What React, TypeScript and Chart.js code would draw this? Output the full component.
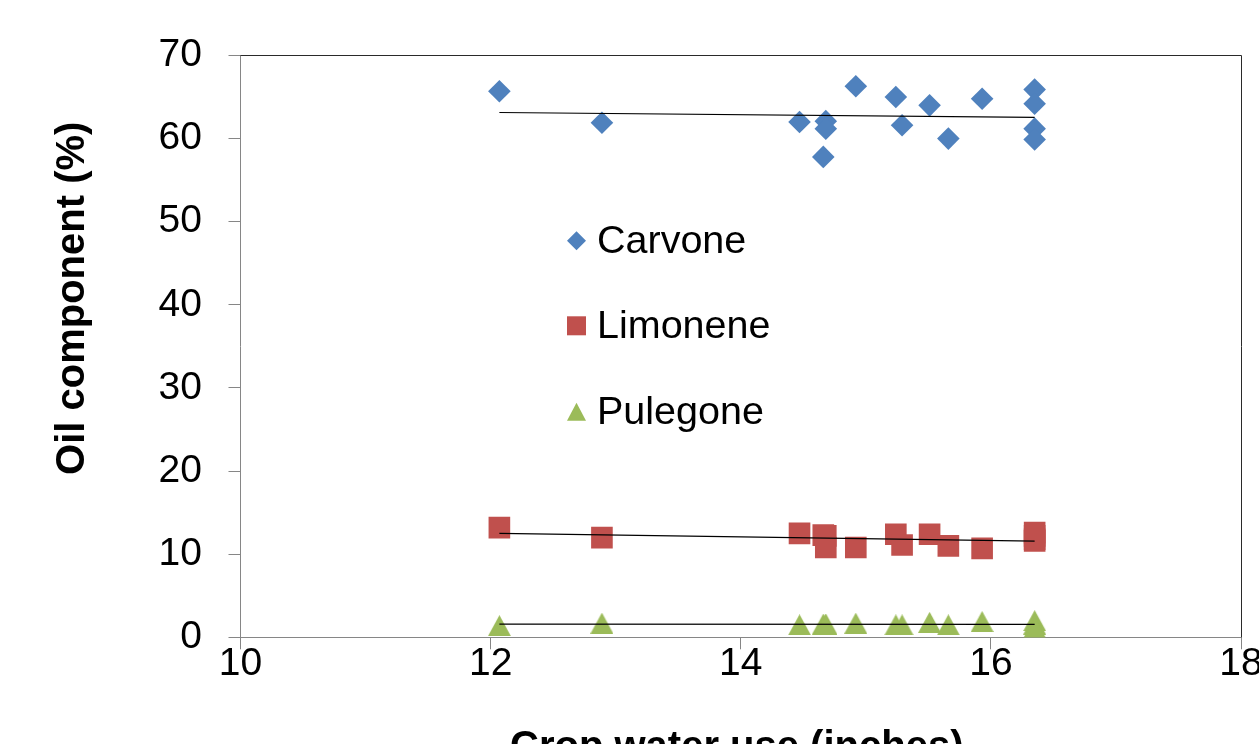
import React, { useEffect, useRef } from "react";
import { Chart, registerables } from "chart.js";

Chart.register(...registerables);

// ---- data ----
const waterUse = [12.07, 12.89, 14.47, 14.66, 14.68, 14.68, 14.92, 15.24, 15.29, 15.51, 15.66, 15.93, 16.35, 16.35, 16.35, 16.35];
const carvone = [65.7, 61.9, 62.0, 57.8, 62.1, 61.2, 66.3, 65.0, 61.6, 64.0, 60.0, 64.8, 65.9, 64.2, 61.2, 59.9];
const limonene = [13.2, 12.0, 12.5, 12.3, 12.2, 10.8, 10.8, 12.4, 11.1, 12.4, 11.0, 10.7, 12.6, 12.2, 11.8, 11.6];
const pulegone = [1.4, 1.7, 1.5, 1.6, 1.6, 1.5, 1.7, 1.5, 1.5, 1.8, 1.5, 1.9, 2.0, 1.6, 1.1, 1.0];

const seriesNames = ["Carvone", "Limonene", "Pulegone"];
const seriesColors = ["#4F81BD", "#C0504D", "#9BBB59"];
const xAxisTitle = "Crop water use (inches)";
const yAxisTitle = "Oil component (%)";
const xMin = 10, xMax = 18, xStep = 2;
const yMin = 0, yMax = 70, yStep = 10;

const FONT = "'Liberation Sans', Arial, Helvetica, sans-serif";
const CANVAS_W = 1300;
const CANVAS_H = 770;

function toPoints(ys: number[]) {
  return waterUse.map((x, i) => ({ x, y: ys[i] }));
}

function trend(ys: number[]) {
  const n = waterUse.length;
  const mx = waterUse.reduce((a, b) => a + b, 0) / n;
  const my = ys.reduce((a, b) => a + b, 0) / n;
  let sxy = 0, sxx = 0;
  for (let i = 0; i < n; i++) {
    sxy += (waterUse[i] - mx) * (ys[i] - my);
    sxx += (waterUse[i] - mx) ** 2;
  }
  const m = sxy / sxx;
  const b = my - m * mx;
  const x0 = Math.min(...waterUse);
  const x1 = Math.max(...waterUse);
  return [{ x: x0, y: b + m * x0 }, { x: x1, y: b + m * x1 }];
}

function triangleImage(w: number, h: number, color: string) {
  const c = document.createElement("canvas");
  c.width = w;
  c.height = h;
  const g = c.getContext("2d")!;
  g.fillStyle = color;
  g.beginPath();
  g.moveTo(w / 2, 0);
  g.lineTo(w, h);
  g.lineTo(0, h);
  g.closePath();
  g.fill();
  return c;
}

const decorPlugin = {
  id: "decor",
  afterDraw(chart: any) {
    const { ctx, chartArea: a } = chart;
    ctx.save();
    // top & right plot border
    ctx.strokeStyle = "#2a2a2a";
    ctx.lineWidth = 1;
    const t = Math.floor(a.top) + 0.5;
    const r = Math.floor(a.right) + 0.5;
    ctx.beginPath();
    ctx.moveTo(a.left, t);
    ctx.lineTo(r, t);
    ctx.lineTo(r, a.bottom);
    ctx.stroke();

    // legend inside plot
    const rows = [185.3, 270.3, 356.3];
    const mx = a.left + 336;
    ctx.font = `39.5px ${FONT}`;
    ctx.fillStyle = "#000";
    ctx.textAlign = "left";
    ctx.textBaseline = "middle";
    seriesNames.forEach((name, i) => {
      const my = a.top + rows[i];
      ctx.fillStyle = seriesColors[i];
      ctx.beginPath();
      if (i === 0) {
        const h = 9.5;
        ctx.moveTo(mx, my - h);
        ctx.lineTo(mx + h, my);
        ctx.lineTo(mx, my + h);
        ctx.lineTo(mx - h, my);
      } else if (i === 1) {
        ctx.rect(mx - 9.5, my - 9.5, 19, 19);
      } else {
        ctx.moveTo(mx, my - 9);
        ctx.lineTo(mx + 9.5, my + 9);
        ctx.lineTo(mx - 9.5, my + 9);
      }
      ctx.closePath();
      ctx.fill();
      ctx.fillStyle = "#000";
      ctx.fillText(name, a.left + 356.5, my + 1);
    });

    // axis titles
    ctx.font = `bold 40px ${FONT}`;
    ctx.textAlign = "center";
    ctx.textBaseline = "alphabetic";
    ctx.fillText(xAxisTitle, (a.left + a.right) / 2 - 4, a.bottom + 121.5);

    ctx.translate(a.left - 156.5, a.top + 242.8);
    ctx.rotate(-Math.PI / 2);
    ctx.fillText(yAxisTitle, 0, 0);
    ctx.restore();
  },
};

export default function App() {
  const ref = useRef<HTMLCanvasElement | null>(null);

  useEffect(() => {
    if (!ref.current) return;
    const tri = triangleImage(23, 21, seriesColors[2]);
    const axisGray = "#868686";
    const chart = new Chart(ref.current, {
      type: "scatter",
      data: {
        datasets: [
          {
            label: seriesNames[0],
            data: toPoints(carvone),
            backgroundColor: seriesColors[0],
            borderColor: seriesColors[0],
            borderWidth: 0,
            pointStyle: "rectRot",
            pointRadius: 11.3,
            order: 2,
          },
          {
            label: seriesNames[1],
            data: toPoints(limonene),
            backgroundColor: seriesColors[1],
            borderColor: seriesColors[1],
            borderWidth: 0,
            pointStyle: "rect",
            pointRadius: 15.3,
            order: 2,
          },
          {
            label: seriesNames[2],
            data: toPoints(pulegone),
            backgroundColor: seriesColors[2],
            borderColor: seriesColors[2],
            borderWidth: 0,
            pointStyle: tri as any,
            pointRadius: 11,
            order: 2,
          },
          ...[carvone, limonene, pulegone].map((ys, i) => ({
            label: seriesNames[i] + " trend",
            data: trend(ys),
            showLine: true,
            borderColor: "#000000",
            borderWidth: 1.2,
            pointRadius: 0,
            fill: false,
            order: 1,
          })),
        ],
      },
      options: {
        animation: false,
        responsive: false,
        devicePixelRatio: 1,
        layout: { padding: { top: 55.5, right: CANVAS_W - 1241, bottom: 0, left: 0 } },
        plugins: {
          legend: { display: false },
          tooltip: { enabled: false },
          title: { display: false },
        },
        scales: {
          x: {
            type: "linear",
            min: xMin,
            max: xMax,
            ticks: {
              stepSize: xStep,
              color: "#000",
              font: { family: FONT, size: 39 },
              padding: -8,
              maxRotation: 0,
            },
            grid: { drawOnChartArea: false, drawTicks: true, tickLength: 12, color: axisGray },
            border: { color: axisGray, width: 1 },
            afterFit: (s: any) => {
              s.height = CANVAS_H - 637.3;
            },
          },
          y: {
            type: "linear",
            min: yMin,
            max: yMax,
            ticks: {
              stepSize: yStep,
              color: "#000",
              font: { family: FONT, size: 39 },
              padding: 26.5,
            },
            grid: { drawOnChartArea: false, drawTicks: true, tickLength: 12, color: axisGray },
            border: { color: axisGray, width: 1 },
            afterFit: (s: any) => {
              s.width = 240.5;
            },
          },
        },
      },
      plugins: [decorPlugin],
    });
    return () => chart.destroy();
  }, []);

  return (
    <div
      style={{
        position: "fixed",
        left: 0,
        top: 0,
        width: 1259,
        height: 744,
        overflow: "hidden",
        background: "#fff",
      }}
    >
      <canvas
        ref={ref}
        width={CANVAS_W}
        height={CANVAS_H}
        style={{ width: CANVAS_W, height: CANVAS_H, display: "block" }}
      />
    </div>
  );
}
